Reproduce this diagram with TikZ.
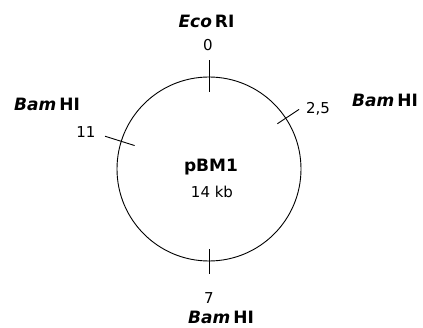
\documentclass[tikz,border=0pt]{standalone}
\usepackage{fontspec}
\setmainfont{DejaVu Sans}
\usetikzlibrary{calc}

\newcommand{\enz}[2]{{\bfseries\itshape #1}\kern3pt{\bfseries #2}}

\begin{document}
\begin{tikzpicture}[x=1pt, y=1pt, line width=0.9pt,
  every node/.style={inner sep=0pt, font=\fontsize{15}{17}\selectfont},
  site/.style={font=\fontsize{17}{19}\selectfont},
  title/.style={font=\fontsize{17}{19}\selectfont\bfseries}]

  \useasboundingbox (0,0) rectangle (423,327);

  % plasmid circle
  \coordinate (c) at (209,158);
  \draw (c) circle [radius=92];

  % restriction sites as ticks across the circle
  \draw (c) ++(90:77) -- ++(90:32);
  \draw (c) ++(270:80) -- ++(270:25);
  \draw (c) ++(162.5:78) -- ++(162.5:31);
  \draw (c) ++(33.5:82) -- ++(33.5:26);

  % positions in kb
  \node (pos0) at (208,282) {0};
  \node (pos11) at (86,195) {11};
  \node (pos25) at (318,218) {2,5};
  \node (pos7) at (209,29) {7};

  % enzyme names
  \node[site] (eco) at (206.5,305.5) {\enz{Eco}{RI}};
  \node[site] (bamL) at (47,223) {\enz{Bam}{HI}};
  \node[site] (bamR) at (385,227) {\enz{Bam}{HI}};
  \node[site] (bamB) at (221,10) {\enz{Bam}{HI}};

  % plasmid name and size
  \node[title] (name) at (211,159.5) {pBM1};
  \node (size) at (212,135.5) {14 kb};

\end{tikzpicture}
\end{document}
